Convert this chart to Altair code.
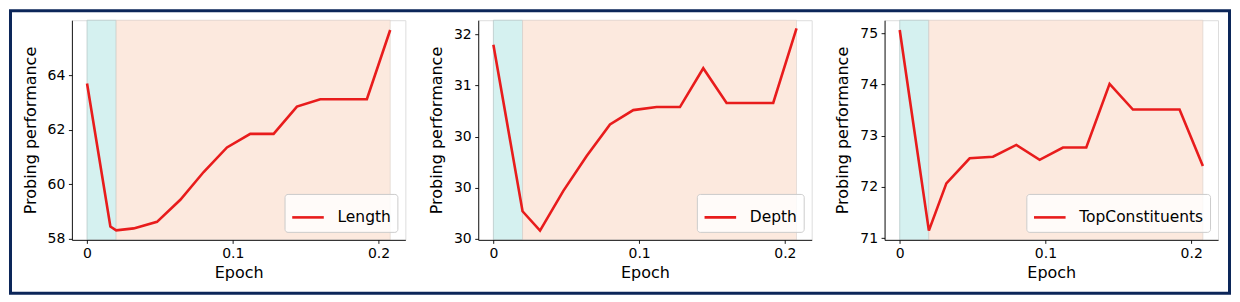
import json
import altair as alt
import pandas as pd

# ---------------- data ----------------
epochs_length = [0, 0.016, 0.02, 0.032, 0.048, 0.064, 0.08, 0.096, 0.112, 0.128, 0.144, 0.16, 0.176, 0.192, 0.208]
length_vals = [63.70, 58.45, 58.31, 58.38, 58.62, 59.43, 60.45, 61.35, 61.85, 61.85, 62.85, 63.12, 63.12, 63.12, 65.66]

epochs_other = [0, 0.02, 0.032, 0.048, 0.064, 0.08, 0.096, 0.112, 0.128, 0.144, 0.16, 0.176, 0.192, 0.208]
depth_vals = [31.40, 29.77, 29.58, 29.97, 30.31, 30.62, 30.76, 30.79, 30.79, 31.17, 30.83, 30.83, 30.83, 31.56]
topconst_vals = [75.06, 71.15, 72.07, 72.56, 72.59, 72.82, 72.53, 72.77, 72.77, 74.01, 73.51, 73.51, 73.51, 72.41]

series_names = ["Length", "Depth", "TopConstituents"]

warmup_span = [0.0, 0.02]
train_span = [0.02, 0.208]

x_domain = [-0.0104, 0.2184]
x_ticks = [0, 0.1, 0.2]
x_tick_labels = ["0", "0.1", "0.2"]

length_domain = [57.96, 66.02]
length_ticks = [58, 60, 62, 64]
length_tick_labels = ["58", "60", "62", "64"]

depth_domain = [29.49, 31.64]
depth_ticks = [29.5, 30, 30.5, 31, 31.5]
depth_tick_labels = ["30", "30", "30", "31", "32"]

topconst_domain = [70.97, 75.25]
topconst_ticks = [71, 72, 73, 74, 75]
topconst_tick_labels = ["71", "72", "73", "74", "75"]

# ---------------- style ----------------
W, H = 334, 220
RED = "#e81c1c"
CYAN = "#d5f1f0"
PEACH = "#fce9de"
NAVY = "#0c2659"
FONT = "DejaVu Sans"


def label_expr(labels, ticks):
    return f"{json.dumps(labels)}[indexof({json.dumps(ticks)}, datum.value)]"


axis_common = dict(
    labelFontSize=14,
    titleFontSize=16,
    titleFontWeight="normal",
    labelColor="black",
    titleColor="black",
    tickColor="black",
    domainColor="black",
    tickSize=3.5,
    tickWidth=0.9,
    domainWidth=0.9,
    grid=False,
    labelPadding=3.5,
    labelFlush=False,
    labelOverlap=False,
    labelFont=FONT,
    titleFont=FONT,
    zindex=1,
)


def panel(name, xs, ys, ydom, yticks, ylabels, frame=False):
    df = pd.DataFrame({"Epoch": xs, "value": ys, "series": [name] * len(xs)})
    spans = pd.DataFrame({"start": [warmup_span[0], train_span[0]],
                          "end": [warmup_span[1], train_span[1]]})

    xscale = alt.Scale(domain=x_domain, nice=False, zero=False)
    xaxis = alt.Axis(values=x_ticks, labelExpr=label_expr(x_tick_labels, x_ticks),
                     title="Epoch", titlePadding=4, **axis_common)

    warm = alt.Chart(spans.iloc[[0]]).mark_rect(color=CYAN, stroke="#b9c9c9", strokeWidth=0.8).encode(
        x=alt.X("start:Q", scale=xscale, axis=xaxis), x2="end:Q",
        y=alt.value(0), y2=alt.value(H))
    train = alt.Chart(spans.iloc[[1]]).mark_rect(color=PEACH, stroke="#d8cfc9", strokeWidth=0.6).encode(
        x=alt.X("start:Q", scale=xscale, axis=xaxis), x2="end:Q",
        y=alt.value(0), y2=alt.value(H))

    line = alt.Chart(df).mark_line(strokeWidth=2.6).encode(
        x=alt.X("Epoch:Q", scale=xscale, axis=xaxis),
        y=alt.Y("value:Q",
                scale=alt.Scale(domain=ydom, nice=False, zero=False),
                axis=alt.Axis(values=yticks, labelExpr=label_expr(ylabels, yticks),
                              title="Probing performance", titlePadding=9, **axis_common)),
        color=alt.Color("series:N",
                        scale=alt.Scale(domain=[name], range=[RED]),
                        legend=alt.Legend(title=None, orient="bottom-right", offset=8,
                                          symbolType="stroke", symbolStrokeWidth=2.6,
                                          symbolSize=1000, labelFontSize=15.5, labelFont=FONT,
                                          labelColor="black",
                                          fillColor="rgba(255,255,255,0.8)", strokeColor="#cccccc",
                                          cornerRadius=3, padding=6, labelOffset=12)),
    )
    layers = [warm, train, line]
    if frame:
        border = alt.Chart(pd.DataFrame({"k": [0]})).mark_rect(
            fillOpacity=0, stroke=NAVY, strokeWidth=3).encode(
            x=alt.value(-61.5), x2=alt.value(1159.5), y=alt.value(-9.5), y2=alt.value(273.5))
        layers.append(border)
    return alt.layer(*layers).properties(width=W, height=H)


p1 = panel(series_names[0], epochs_length, length_vals, length_domain, length_ticks, length_tick_labels, frame=True)
p2 = panel(series_names[1], epochs_other, depth_vals, depth_domain, depth_ticks, depth_tick_labels)
p3 = panel(series_names[2], epochs_other, topconst_vals, topconst_domain, topconst_ticks, topconst_tick_labels)

chart = alt.hconcat(p1, p2, p3, spacing=73, bounds="flush").resolve_scale(
    color="independent", x="independent", y="independent"
).resolve_legend(color="independent").properties(
    padding=0, background="white"
).configure_view(stroke="black", strokeWidth=0.9).configure(font=FONT)

chart.save("out.html", embed_options={"renderer": "svg", "actions": False})
